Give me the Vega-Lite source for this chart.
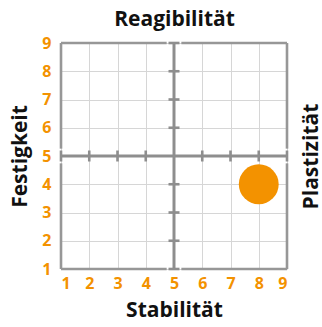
{
  "$schema": "https://vega.github.io/schema/vega-lite/v6.json",
  "autosize": {"type": "none"},
  "width": 226,
  "height": 226,
  "padding": {"left": 61, "top": 43, "right": 35, "bottom": 58},
  "background": "white",
  "config": {
    "view": {"stroke": null},
    "axis": {
      "labelFont": "Open Sans",
      "labelFontWeight": "bold",
      "labelFontSize": 16,
      "labelColor": "#F39200",
      "titleFont": "Open Sans",
      "titleFontWeight": "bold",
      "titleFontSize": 21,
      "titleColor": "#111111",
      "gridColor": "#d6d6d6",
      "gridWidth": 1,
      "gridOpacity": 1
    }
  },
  "datasets": {
    "border": [
      {"x": 1, "x2": 4.74, "y": 9, "y2": 9},
      {"x": 5.26, "x2": 9, "y": 9, "y2": 9},
      {"x": 1, "x2": 4.74, "y": 1, "y2": 1},
      {"x": 5.26, "x2": 9, "y": 1, "y2": 1},
      {"x": 1, "x2": 1, "y": 9, "y2": 5.26},
      {"x": 1, "x2": 1, "y": 4.74, "y2": 1},
      {"x": 9, "x2": 9, "y": 9, "y2": 5.26},
      {"x": 9, "x2": 9, "y": 4.74, "y2": 1}
    ],
    "cross": [
      {"x": 5, "x2": 5, "y": 1, "y2": 9},
      {"x": 1, "x2": 9, "y": 5, "y2": 5}
    ],
    "vticks": [
      {"x": 5, "y": 1}, {"x": 5, "y": 2}, {"x": 5, "y": 3}, {"x": 5, "y": 4},
      {"x": 5, "y": 6}, {"x": 5, "y": 7}, {"x": 5, "y": 8}, {"x": 5, "y": 9}
    ],
    "hticks": [
      {"x": 1, "y": 5}, {"x": 2, "y": 5}, {"x": 3, "y": 5}, {"x": 4, "y": 5},
      {"x": 6, "y": 5}, {"x": 7, "y": 5}, {"x": 8, "y": 5}, {"x": 9, "y": 5}
    ],
    "point": [{"x": 8, "y": 4}]
  },
  "layer": [
    {
      "data": {"name": "border"},
      "mark": {"type": "rule", "color": "#979797", "strokeWidth": 2.6},
      "encoding": {
        "x": {
          "field": "x", "type": "quantitative",
          "scale": {"domain": [1, 9], "nice": false, "zero": false},
          "axis": {
            "orient": "bottom", "title": "Stabilität",
            "values": [1, 2, 3, 4, 5, 6, 7, 8, 9],
            "domain": false, "ticks": false, "grid": true,
            "labelPadding": 6, "titlePadding": 8
          }
        },
        "x2": {"field": "x2"},
        "y": {
          "field": "y", "type": "quantitative",
          "scale": {"domain": [1, 9], "nice": false, "zero": false},
          "axis": {
            "orient": "left", "title": "Festigkeit",
            "values": [1, 2, 3, 4, 5, 6, 7, 8, 9],
            "domain": false, "ticks": false, "grid": true,
            "labelPadding": 10, "titlePadding": 11
          }
        },
        "y2": {"field": "y2"}
      }
    },
    {
      "data": {"name": "cross"},
      "mark": {"type": "rule", "color": "#8e8e8e", "strokeWidth": 3},
      "encoding": {
        "x": {
          "field": "x", "type": "quantitative",
          "axis": {
            "orient": "top", "title": "Reagibilität",
            "labels": false, "domain": false, "ticks": false, "grid": false,
            "titlePadding": 14
          }
        },
        "x2": {"field": "x2"},
        "y": {
          "field": "y", "type": "quantitative",
          "axis": {
            "orient": "right", "title": "Plastizität",
            "labels": false, "domain": false, "ticks": false, "grid": false,
            "titleAngle": 270, "titleBaseline": "top", "titlePadding": 13
          }
        },
        "y2": {"field": "y2"}
      }
    },
    {
      "data": {"name": "vticks"},
      "mark": {"type": "tick", "orient": "horizontal", "color": "#8e8e8e", "size": 11, "thickness": 2.6, "opacity": 1},
      "encoding": {
        "x": {"field": "x", "type": "quantitative", "axis": null},
        "y": {"field": "y", "type": "quantitative", "axis": null}
      }
    },
    {
      "data": {"name": "hticks"},
      "mark": {"type": "tick", "orient": "vertical", "color": "#8e8e8e", "size": 11, "thickness": 2.6, "opacity": 1},
      "encoding": {
        "x": {"field": "x", "type": "quantitative", "axis": null},
        "y": {"field": "y", "type": "quantitative", "axis": null}
      }
    },
    {
      "data": {"name": "point"},
      "mark": {"type": "circle", "color": "#F39200", "opacity": 1, "size": 1590},
      "encoding": {
        "x": {"field": "x", "type": "quantitative", "axis": null},
        "y": {"field": "y", "type": "quantitative", "axis": null}
      }
    }
  ]
}
